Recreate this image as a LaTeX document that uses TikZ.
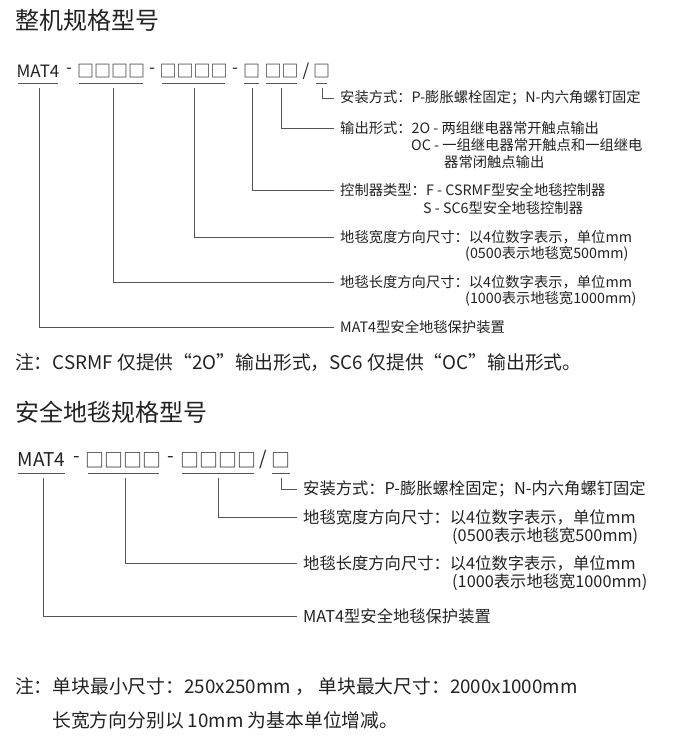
\documentclass[tikz,border=0pt]{standalone}
\usepackage{fontspec}
\setmainfont{Noto Sans CJK SC}
\definecolor{txt}{HTML}{222222}
\definecolor{lead}{HTML}{555555}
\tikzset{
  lbl/.style={anchor=west,inner sep=0pt,text=txt,font=\fontsize{14.3}{16}\selectfont},
  lblb/.style={anchor=west,inner sep=0pt,text=txt,font=\fontsize{16.3}{18}\selectfont},
  code/.style={inner sep=0pt,text=txt,font=\fontsize{17}{20}\selectfont},
  ttl/.style={anchor=west,inner sep=0pt,text=txt,font=\fontsize{24}{28}\selectfont},
  note/.style={anchor=west,inner sep=0pt,text=txt,font=\fontsize{18.8}{22}\selectfont},
  uline/.style={lead,line width=0.8pt},
  leader/.style={lead,line width=0.8pt}
}
\begin{document}
\begin{tikzpicture}[x=1pt,y=-1pt]
\useasboundingbox (0,0) rectangle (681,739);

% Complete machine
\node[ttl] (t1) at (15,20) {整机规格型号};
\foreach \a/\b/\s in {18/58/MAT4,79/143/□□□□,162/225/□□□□,244/259/□,266/297/□□,316/327/□}{
  \node[code] at ({(\a+\b)/2},71) {\s};
  \draw[uline] (\a,83) -- (\b,83);
}
\foreach \x/\s in {69/-,152/-,235/-,306/{/}}
  \node[code] at (\x,71) {\s};

\node[lbl] (m1) at (340,98) {安装方式：P-膨胀螺栓固定；N-内六角螺钉固定};
\node[lbl] (o1) at (340,128) {输出形式：2O - 两组继电器常开触点输出};
\node[lbl] (o2) at (411,145) {OC - 一组继电器常开触点和一组继电};
\node[lbl] (o3) at (444,162) {器常闭触点输出};
\node[lbl] (k1) at (340,190) {控制器类型：F - CSRMF型安全地毯控制器};
\node[lbl] (k2) at (423,208) {S - SC6型安全地毯控制器};
\node[lbl] (w1) at (340,237) {地毯宽度方向尺寸：以4位数字表示，单位mm};
\node[lbl] (w2) at (465,254) {(0500表示地毯宽500mm)};
\node[lbl] (l1) at (340,282) {地毯长度方向尺寸：以4位数字表示，单位mm};
\node[lbl] (l2) at (465,299) {(1000表示地毯宽1000mm)};
\node[lbl] (p1) at (340,327) {MAT4型安全地毯保护装置};

\foreach \x/\n in {322/m1,281/o1,252/k1,194/w1,113/l1,39/p1}
  \draw[leader] (\x,88) |- ([xshift=-6pt]\n.west);

\node[note] (n1) at (15,363) {注：CSRMF 仅提供“2O”输出形式，SC6 仅提供“OC”输出形式。};

% Safety mat
\node[ttl] (t2) at (15,412) {安全地毯规格型号};
\foreach \a/\b/\s in {18/65/MAT4,88/159/□□□□,182/254/□□□□,272/290/□}{
  \node[code,font=\fontsize{19}{22}\selectfont] at ({(\a+\b)/2},460) {\s};
  \draw[uline] (\a,473) -- (\b,473);
}
\foreach \x/\s in {77/-,171/-,263/{/}}
  \node[code,font=\fontsize{19}{22}\selectfont] at (\x,460) {\s};

\node[lblb] (sm) at (303,489) {安装方式：P-膨胀螺栓固定；N-内六角螺钉固定};
\node[lblb] (sw1) at (303,517) {地毯宽度方向尺寸：以4位数字表示，单位mm};
\node[lblb] (sw2) at (452,536) {(0500表示地毯宽500mm)};
\node[lblb] (sl1) at (303,563) {地毯长度方向尺寸：以4位数字表示，单位mm};
\node[lblb] (sl2) at (452,582) {(1000表示地毯宽1000mm)};
\node[lblb] (sp) at (303,616) {MAT4型安全地毯保护装置};

\foreach \x/\n in {281/sm,218/sw1,125/sl1,43/sp}
  \draw[leader] (\x,478) |- ([xshift=-6pt]\n.west);

\node[note] (n2) at (15,687) {注：单块最小尺寸：250x250mm ， 单块最大尺寸：2000x1000mm};
\node[note] (n3) at (52,720) {长宽方向分别以 10mm 为基本单位增减。};
\end{tikzpicture}
\end{document}
